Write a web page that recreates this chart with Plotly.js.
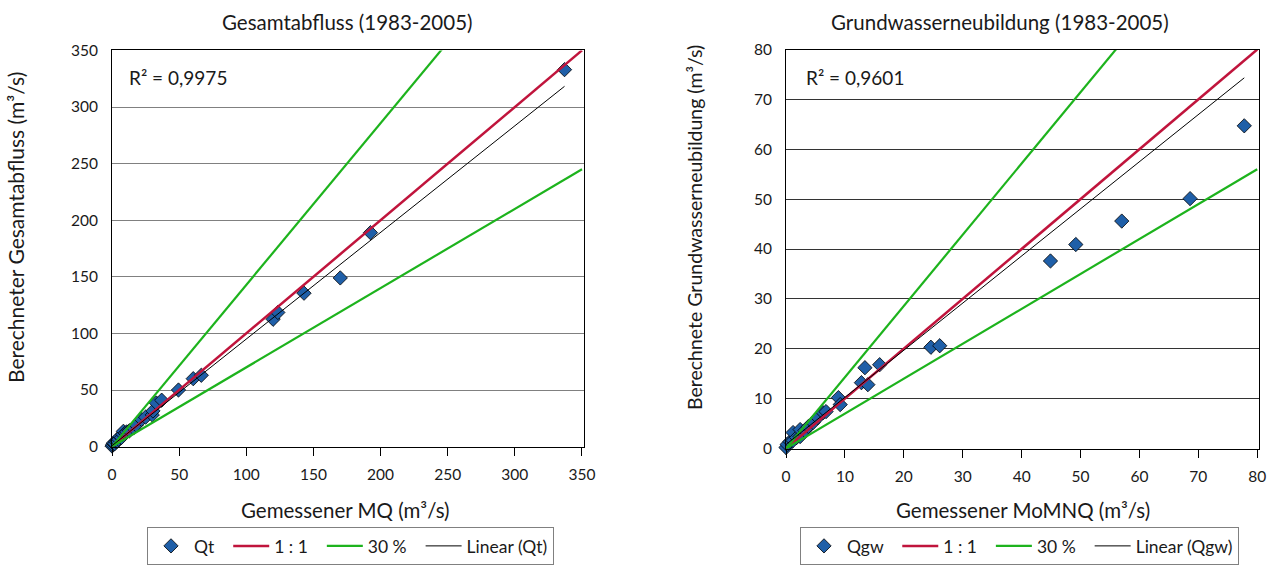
<!DOCTYPE html>
<html>
<head>
<meta charset="utf-8">
<script src="https://cdn.plot.ly/plotly-3.0.1.min.js"></script>
<style>html,body{margin:0;padding:0;background:#fff;}#chart{width:1276px;height:566px;}</style>
</head>
<body>
<div id="chart"></div>
<script>
// ---- Data ----
const qtMeasured  = [0, 0.5, 1, 2, 3, 4, 5, 6, 7, 8, 8.5, 10, 11, 13, 16, 18, 22, 25, 30, 30.5, 33, 37, 49.5, 60.5, 66.5, 120, 123.5, 143, 170, 192.5, 337];
const qtComputed  = [0.5, 1.5, 3, 2.5, 4.5, 5, 6.5, 9, 8, 11, 13.5, 12, 13, 14, 16.5, 19, 24, 26, 28, 31.5, 38.5, 41, 50, 60, 63, 112.5, 118.5, 135.5, 149, 189, 333];
const qgwMeasured = [0, 0.2, 0.7, 1.2, 1.2, 1.8, 2.4, 2.4, 3.2, 3.8, 4.6, 5.4, 6.3, 6.8, 8.9, 9.2, 12.8, 13.9, 13.4, 15.9, 24.6, 26.1, 44.9, 49.2, 57, 68.6, 77.8];
const qgwComputed = [0.2, 0.8, 1.4, 1.6, 3.2, 2.2, 2.4, 3.8, 3.6, 4.4, 5.2, 6.2, 7.2, 7.4, 10.2, 8.8, 13.2, 12.8, 16.2, 16.8, 20.3, 20.6, 37.6, 40.9, 45.6, 50.1, 64.7];
const qtTrend  = {slope: 0.942, intercept: 0.8};
const qgwTrend = {slope: 0.945, intercept: 0.8};
const band = 0.3;               // 30 % lines: y = 0.7x and y = x/0.7
const leftTicks  = [0, 50, 100, 150, 200, 250, 300, 350];
const rightTicks = [0, 10, 20, 30, 40, 50, 60, 70, 80];
const leftNames  = ['Qt', '1 : 1', '30 %', 'Linear (Qt)'];
const rightNames = ['Qgw', '1 : 1', '30 %', 'Linear (Qgw)'];
const titles = ['Gesamtabfluss (1983-2005)', 'Grundwasserneubildung (1983-2005)'];
const xTitles = ['Gemessener MQ (m³/s)', 'Gemessener MoMNQ (m³/s)'];
const yTitles = ['Berechneter Gesamtabfluss (m³/s)', 'Berechnete Grundwasserneubildung (m³/s)'];
const r2 = ['R² = 0,9975', 'R² = 0,9601'];

// ---- Styles ----
const FONT = 'Lato, "Open Sans", sans-serif';
const TXT = '#1a1a1a';
const BLUE = '#1F5FA8';
const RED = '#C0143C';
const GREEN = '#1DB31D';
const W = 1276, H = 566;
const PAD = '\u00a0\u00a0';   // spacing after legend labels

function traces(mx, my, trend, max, names, xa, ya, leg) {
  const lo = 1 - band, hi = 1 / (1 - band);
  const tx0 = Math.min(...mx), tx1 = Math.max(...mx);
  return [
    {x: mx, y: my, type: 'scatter', mode: 'markers', name: names[0] + PAD, xaxis: xa, yaxis: ya, legend: leg,
     cliponaxis: false,
     marker: {symbol: 'diamond', size: 11, color: BLUE, line: {color: '#000', width: 0.8}}},
    {x: [0, max], y: [0, max], type: 'scatter', mode: 'lines', name: names[1] + PAD, xaxis: xa, yaxis: ya, legend: leg,
     line: {color: RED, width: 2.5}},
    {x: [0, max, null, 0, max], y: [0, max * hi, null, 0, max * lo], type: 'scatter', mode: 'lines', name: names[2] + PAD,
     xaxis: xa, yaxis: ya, legend: leg, connectgaps: false, line: {color: GREEN, width: 2.2}},
    {x: [tx0, tx1], y: [trend.slope * tx0 + trend.intercept, trend.slope * tx1 + trend.intercept], type: 'scatter',
     mode: 'lines', name: names[3], xaxis: xa, yaxis: ya, legend: leg, line: {color: '#000', width: 1}}
  ];
}

const data = [].concat(
  traces(qtMeasured, qtComputed, qtTrend, 350, leftNames, 'x', 'y', 'legend'),
  traces(qgwMeasured, qgwComputed, qgwTrend, 80, rightNames, 'x2', 'y2', 'legend2')
);

function px(v) { return v / W; }
function py(v) { return 1 - v / H; }

const axBase = {
  showline: true, linecolor: '#000', linewidth: 1, mirror: true, zeroline: false,
  tickfont: {family: FONT, size: 15.5, color: TXT}, fixedrange: true
};

const legBase = {
  orientation: 'h', xanchor: 'left', yanchor: 'bottom', bgcolor: '#fff',
  bordercolor: '#808080', borderwidth: 1, font: {family: FONT, size: 17.5, color: TXT},
  itemwidth: 36
};

function ann(text, x, y, size, extra) {
  return Object.assign({text: text, xref: 'paper', yref: 'paper', x: px(x), y: py(y), xanchor: 'center',
    yanchor: 'middle', showarrow: false, font: {family: FONT, size: size, color: TXT}}, extra || {});
}

const layout = {
  width: W, height: H, margin: {l: 0, r: 0, t: 0, b: 0},
  paper_bgcolor: '#fff', plot_bgcolor: '#fff', showlegend: true,
  font: {family: FONT, color: TXT},
  xaxis: Object.assign({}, axBase, {domain: [px(112), px(584)], range: [0, 351.5], tickvals: leftTicks,
    ticks: 'outside', ticklen: 8, tickcolor: '#000', showgrid: false, anchor: 'y', ticklabelstandoff: 6}),
  yaxis: Object.assign({}, axBase, {domain: [py(446.6), py(50.4)], range: [0, 350], tickvals: leftTicks,
    ticks: '', showgrid: true, gridcolor: '#808080', gridwidth: 1, anchor: 'x', ticklabelstandoff: 10}),
  xaxis2: Object.assign({}, axBase, {domain: [px(786), px(1259)], range: [0, 80.3], tickvals: rightTicks,
    ticks: 'outside', ticklen: 8, tickcolor: '#000', showgrid: false, anchor: 'y2', ticklabelstandoff: 6}),
  yaxis2: Object.assign({}, axBase, {domain: [py(448.5), py(49.5)], range: [0, 80], tickvals: rightTicks,
    ticks: '', showgrid: true, gridcolor: '#333', gridwidth: 1, anchor: 'x2', ticklabelstandoff: 10}),
  legend: Object.assign({}, legBase, {x: px(147), y: py(565)}),
  legend2: Object.assign({}, legBase, {x: px(800), y: py(565)}),
  annotations: [
    ann(titles[0], 347.5, 22, 20.5),
    ann(titles[1], 1000, 22, 20.5),
    ann(xTitles[0], 345, 510, 20.5),
    ann(xTitles[1], 1023, 510, 20.5),
    ann(yTitles[0], 15, 228, 21, {textangle: -90}),
    ann(yTitles[1], 694, 228, 19.5, {textangle: -90}),
    ann(r2[0], 127, 78, 19, {xanchor: 'left'}),
    ann(r2[1], 804, 78, 19, {xanchor: 'left'})
  ]
};

Plotly.newPlot('chart', data, layout, {displayModeBar: false, staticPlot: true});
</script>
</body>
</html>
